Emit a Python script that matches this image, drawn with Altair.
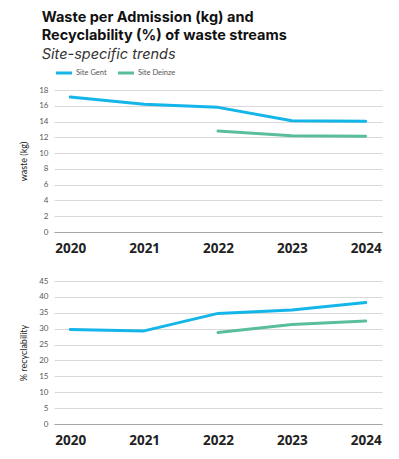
import altair as alt
import pandas as pd

years = ["2020", "2021", "2022", "2023", "2024"]
gent_waste = [17.1, 16.2, 15.8, 14.1, 14.05]
deinze_waste = [None, None, 12.8, 12.2, 12.15]
gent_recyc = [29.7, 29.3, 34.8, 35.9, 38.2]
deinze_recyc = [None, None, 28.8, 31.3, 32.4]
sites = ["Site Gent", "Site Deinze"]
colors = ["#14B5E8", "#5BBE9A"]

rows = []
for i, y in enumerate(years):
    for site, w, r in [(sites[0], gent_waste[i], gent_recyc[i]), (sites[1], deinze_waste[i], deinze_recyc[i])]:
        if w is not None:
            rows.append({"year": y, "site": site, "waste": w, "recyc": r})
df = pd.DataFrame(rows)

FONT = "Lato"

x = alt.X("year:O", scale=alt.Scale(type="point", padding=0.22), sort=years,
          axis=alt.Axis(title=None, labelAngle=0, labelFontSize=13.5, labelFontWeight="bold",
                        labelColor="#222222", labelFont="Open Sans", labelPadding=9,
                        domainColor="#A6A6A6", domainWidth=1.2, ticks=False, grid=False))
color = alt.Color("site:N", scale=alt.Scale(domain=sites, range=colors),
                  legend=alt.Legend(title=None, orient="top", direction="horizontal",
                                    symbolType="stroke", symbolStrokeWidth=3, symbolSize=260,
                                    labelFontSize=7.5, labelColor="#555555", columnPadding=4,
                                    labelOffset=2, labelFont=FONT, offset=7))

def yaxis(title, values):
    return alt.Axis(title=title, values=values, titleFontSize=9,
                    titleFontWeight="normal", titleColor="#222222", titleFont=FONT,
                    labelFontSize=8, labelColor="#595959", labelFont=FONT,
                    gridColor="#D9D9D9", gridWidth=1.2, domain=False, ticks=False,
                    labelPadding=6, titlePadding=10)

top = alt.Chart(df).mark_line(strokeWidth=3, strokeJoin="round", strokeCap="round").encode(
    x=x,
    y=alt.Y("waste:Q", scale=alt.Scale(domain=[0, 18], nice=False),
            axis=yaxis("waste (kg)", list(range(0, 19, 2)))),
    color=color,
).properties(width=328, height=142)

bottom = alt.Chart(df).mark_line(strokeWidth=3, strokeJoin="round", strokeCap="round").encode(
    x=x,
    y=alt.Y("recyc:Q", scale=alt.Scale(domain=[0, 45], nice=False),
            axis=yaxis("% recyclability", list(range(0, 46, 5)))),
    color=color,
).properties(width=328, height=143)

chart = alt.vconcat(top, bottom, spacing=22).properties(
    title=alt.TitleParams(
        text=["Waste per Admission (kg) and", "Recyclability (%) of waste streams"],
        subtitle="Site-specific trends",
        anchor="start", font="Inter", fontSize=14.5, fontWeight="bold", color="#111111",
        lineHeight=18, subtitleFont="Inter", subtitleFontSize=14.5, subtitleFontStyle="italic",
        subtitleColor="#333333", subtitlePadding=4, dx=22, offset=1),
    padding={"left": 11, "top": 2, "right": 5, "bottom": 5},
).configure_view(stroke=None)

chart.save("out.html", embed_options={"renderer": "svg", "actions": False})
